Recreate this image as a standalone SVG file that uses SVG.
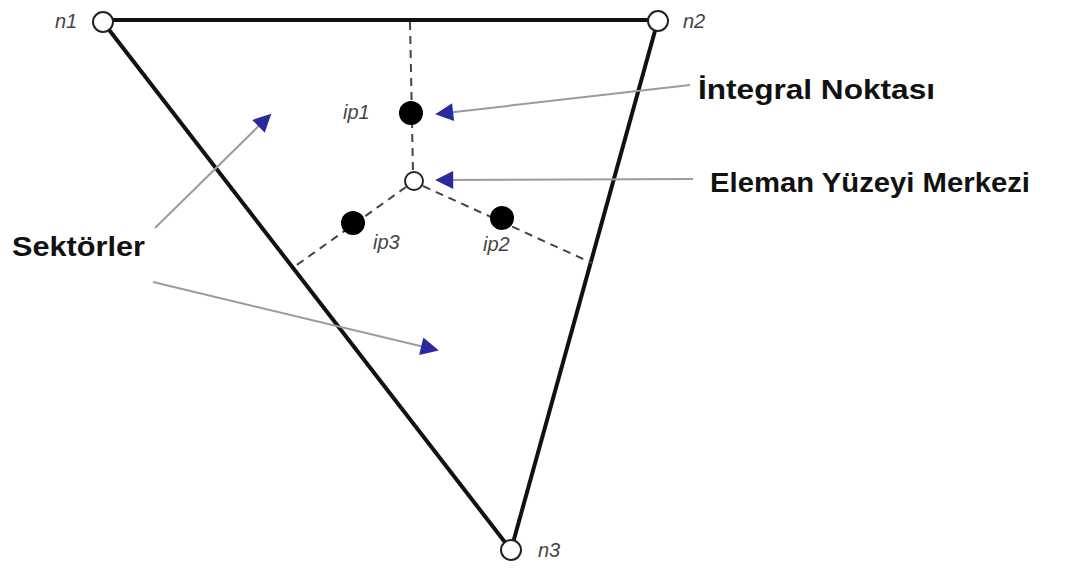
<svg xmlns="http://www.w3.org/2000/svg" width="1067" height="572" viewBox="0 0 1067 572">
<defs>
<marker id="ah" viewBox="0 0 10 10" refX="9" refY="5" markerWidth="28" markerHeight="18" markerUnits="userSpaceOnUse" orient="auto">
<path d="M0,0 L10,5 L0,10 Z" fill="#2b2a9c"/>
</marker>
<style>
.edge{stroke:#111;stroke-width:4;fill:none}
.dash{stroke:#444;stroke-width:2;stroke-dasharray:8,6;fill:none}
.ptr{stroke:#9a9aa6;stroke-width:2;fill:none;marker-end:url(#ah)}
.node{fill:#fff;stroke:#222;stroke-width:2}
.ip{fill:#000}
.nl{font-family:"Liberation Sans",Arial,sans-serif;font-style:italic;font-size:20px;fill:#444}
.lb{font-family:"Liberation Sans",Arial,sans-serif;font-weight:bold;font-size:27px;fill:#111}
</style>
</defs>
<rect width="1067" height="572" fill="#fff"/>
<g id="edges">
<line class="edge" x1="103" y1="20" x2="658" y2="20"/>
<line class="edge" x1="103" y1="22" x2="511" y2="550"/>
<line class="edge" x1="658" y1="20" x2="511" y2="550"/>
</g>
<g id="connectors">
<line class="dash" x1="410" y1="22" x2="413" y2="172"/>
<line class="dash" x1="406" y1="187" x2="294" y2="267"/>
<line class="dash" x1="423" y1="186" x2="592" y2="263"/>
<line class="ptr" x1="690" y1="85" x2="437" y2="114"/>
<line class="ptr" x1="693" y1="179" x2="437" y2="180"/>
<line class="ptr" x1="155" y1="228" x2="270" y2="115"/>
<line class="ptr" x1="153" y1="282" x2="437" y2="350"/>
</g>
<g id="n1"><circle class="node" cx="103" cy="22" r="10"/><text class="nl" x="55" y="28">n1</text></g>
<g id="n2"><circle class="node" cx="658" cy="21" r="10"/><text class="nl" x="683" y="28">n2</text></g>
<g id="n3"><circle class="node" cx="511" cy="550" r="10"/><text class="nl" x="538" y="557">n3</text></g>
<g id="center"><circle class="node" cx="414" cy="181" r="9" stroke-width="1.5"/></g>
<g id="ip1"><circle class="ip" cx="411" cy="113" r="12"/><text class="nl" x="343" y="119">ip1</text></g>
<g id="ip2"><circle class="ip" cx="502" cy="218" r="12"/><text class="nl" x="483" y="251">ip2</text></g>
<g id="ip3"><circle class="ip" cx="353" cy="223" r="12"/><text class="nl" x="373" y="249">ip3</text></g>
<g id="labels">
<text class="lb" x="698" y="99" textLength="237" lengthAdjust="spacingAndGlyphs">İntegral Noktası</text>
<text class="lb" x="710" y="192" textLength="320" lengthAdjust="spacingAndGlyphs">Eleman Yüzeyi Merkezi</text>
<text class="lb" x="12" y="256" textLength="133" lengthAdjust="spacingAndGlyphs">Sektörler</text>
</g>
</svg>
